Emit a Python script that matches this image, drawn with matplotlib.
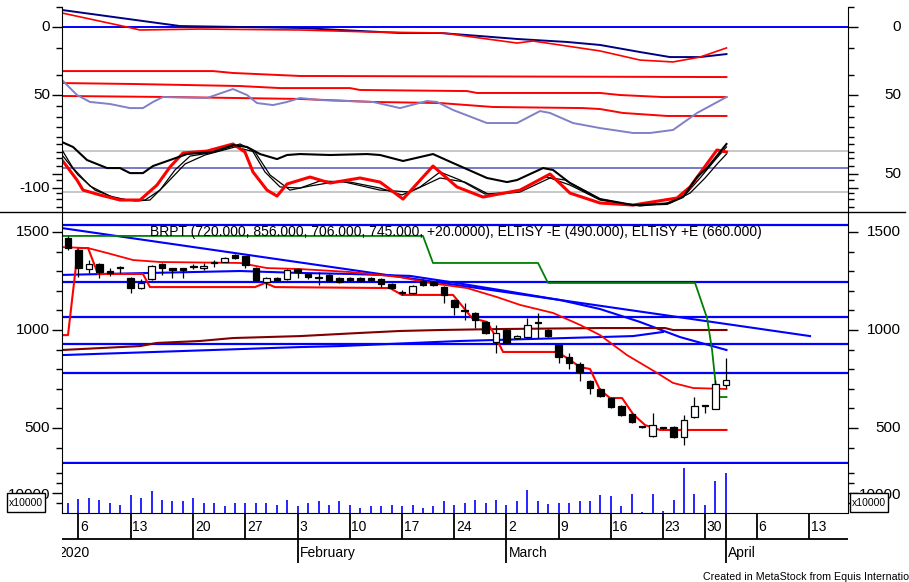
import numpy as np
import matplotlib
matplotlib.use("Agg")
import matplotlib.pyplot as plt
from matplotlib.lines import Line2D
from matplotlib.patches import Rectangle

W, H = 909, 582
FONT = ["Liberation Sans", "DejaVu Sans"]

# ---------------------------------------------------------------------------
# Daily bars, BRPT, 3 Jan - 1 Apr 2020 (bar index 0 = first session shown)
# ---------------------------------------------------------------------------
opens = [1469, 1410, 1311, 1337, 1301, 1316, 1265, 1214, 1260, 1337, 1316, 1316,
         1327, 1316, 1342, 1347, 1383, 1378, 1316, 1245, 1265, 1260, 1311, 1286,
         1265, 1281, 1265, 1265, 1265, 1265, 1260, 1235, 1194, 1189, 1250, 1245,
         1219, 1153, 1100, 1087, 1041, 939, 1000, 959, 964, 1041, 1000, 923,
         862, 827, 740, 699, 653, 612, 571, 505, 459, 500, 505, 454,
         556, 612, 597, 720]
highs = [1480, 1413, 1357, 1340, 1316, 1327, 1270, 1260, 1330, 1340, 1318, 1318,
         1337, 1342, 1357, 1370, 1388, 1380, 1320, 1268, 1268, 1310, 1315, 1290,
         1296, 1285, 1268, 1270, 1268, 1270, 1265, 1240, 1204, 1230, 1260, 1250,
         1225, 1158, 1138, 1090, 1045, 1026, 1005, 975, 1061, 1087, 1005, 925,
         883, 837, 745, 705, 655, 615, 575, 510, 577, 503, 508, 566,
         658, 615, 745, 856]
lows = [1410, 1270, 1291, 1265, 1276, 1291, 1189, 1210, 1255, 1281, 1265, 1265,
        1311, 1306, 1321, 1345, 1362, 1316, 1250, 1214, 1250, 1255, 1265, 1260,
        1230, 1245, 1240, 1250, 1245, 1250, 1219, 1210, 1179, 1185, 1225, 1225,
        1138, 1077, 1051, 1010, 980, 883, 930, 955, 960, 959, 965, 832,
        801, 740, 674, 660, 600, 560, 528, 500, 455, 497, 450, 413,
        551, 577, 595, 706]
closes = [1418, 1316, 1337, 1296, 1291, 1316, 1214, 1240, 1327, 1316, 1306, 1306,
          1324, 1327, 1342, 1367, 1367, 1330, 1255, 1265, 1255, 1306, 1296, 1270,
          1265, 1250, 1245, 1255, 1250, 1255, 1235, 1214, 1190, 1224, 1232, 1230,
          1179, 1117, 1095, 1051, 985, 985, 934, 969, 1026, 1036, 969, 862,
          832, 786, 704, 663, 607, 566, 531, 505, 515, 500, 454, 541,
          612, 612, 725, 745]
volume = [5000, 7000, 7500, 6500, 5000, 4000, 9000, 7500, 11000, 6500,
          6000, 6000, 7500, 5000, 5000, 3500, 5000, 5000, 5000, 5000,
          4000, 6500, 3500, 5000, 6000, 4000, 6000, 4000, 2500, 3500,
          3500, 4000, 3500, 4000, 2500, 3500, 6000, 4000, 5000, 6500,
          5000, 6500, 4000, 6000, 11500, 6000, 4500, 5000, 5000, 6000,
          6000, 9000, 8500, 3500, 9500, 500, 9500, 1000, 6500, 22500,
          9500, 4000, 16000, 20000]

# date axis (positions in bar index, future sessions extend past the last bar)
week_idx = [1, 6, 12, 17, 22, 27, 32, 37, 42, 47, 52, 57, 61, 63, 66, 71]
week_lbl = ["6", "13", "20", "27", "3", "10", "17", "24", "2", "9", "16", "23",
            "30", "", "6", "13"]
month_idx = [22, 42, 63]
month_lbl = ["February", "March", "April"]

# ---------------------------------------------------------------------------
# Price-panel overlays (knots: bar index, price)
# ---------------------------------------------------------------------------
hlines_blue = [1536, 1245, 1066, 929, 781]
bottom_line = 321
trend_x = [-0.57, 71.07]
trend_p = [1520, 969]
ma_blue_x = [-0.57, 7.85, 16.48, 22.22, 27.01, 32.76, 36.59, 41.38, 47.13, 50.96,
             54.79, 58.62, 63.07]
ma_blue_p = [1281, 1291, 1301, 1291, 1286, 1276, 1245, 1204, 1153, 1107,
             1041, 964, 898]
rise_x = [-0.57, 22.22, 26.05, 37.55, 50.96, 54.12, 56.99]
rise_p = [872, 913, 918, 944, 964, 969, 990]
band_up_x = [-0.57, 1.92, 3.74, 6.23, 8.81, 16.48, 19.06, 22.22, 27.01, 31.80,
             34.67, 38.22, 41.09, 43.30, 46.46, 49.04, 50.96, 53.54, 56.42, 57.95,
             59.87, 63.07]
band_up_p = [1423, 1418, 1393, 1357, 1347, 1342, 1316, 1311, 1296, 1270,
             1240, 1214, 1168, 1128, 1087, 1026, 974, 872, 781, 730,
             704, 699]
elt_lo_x = [-0.57, 0, 0.96, 1.92, 2.87, 7.18, 7.85, 17.91, 18.87, 19.83, 30.84,
            31.99, 36.88, 37.84, 38.70, 40.13, 40.71, 41.67, 46.84, 47.80, 49.04,
            50.00, 50.96, 51.92, 53.07, 54.12, 55.27, 56.70, 63.07]
elt_lo_p = [974, 974, 1418, 1418, 1286, 1286, 1219, 1219, 1240, 1219, 1214,
            1179, 1179, 1117, 1061, 1041, 990, 888, 888, 857, 811,
            801, 694, 653, 653, 571, 515, 490, 490]
elt_hi_x = [-0.57, 34.00, 34.96, 45.02, 45.98, 60.06, 61.21, 61.69, 62.16, 63.07]
elt_hi_p = [1480, 1480, 1342, 1342, 1240, 1240, 1061, 898, 658, 658]
maroon_x = [-0.57, 6.90, 8.52, 12.64, 15.80, 22.22, 27.97, 31.80, 35.63, 41.38,
            50.96, 57.18, 57.95, 63.07]
maroon_p = [898, 918, 934, 944, 959, 969, 985, 995, 1000, 1005,
            1010, 1010, 1000, 1000]

# ---------------------------------------------------------------------------
# Indicator panel (knots: bar index, panel units)
# ---------------------------------------------------------------------------
navy_x = [-0.57, 10.73, 22.22, 31.80, 35.63, 38.22, 43.01, 47.80, 50.96, 54.79,
          57.66, 60.54, 63.07]
navy_v = [-12.5, -0.7, 0.7, 4.4, 4.4, 5.9, 8.8, 11.0, 13.2, 18.4, 22.1, 22.1, 19.9]
sig_x = [-0.57, 5.65, 6.90, 12.64, 22.22, 29.21, 35.92, 38.79, 43.01, 44.54,
         47.80, 50.96, 54.79, 57.95, 60.54, 63.07]
sig_v = [-10.3, 0, 2.2, 1.5, 2.2, 3.7, 4.4, 7.4, 11.8, 10.3, 14.0, 17.6, 24.3,
         25.7, 22.1, 15.4]
r1_x = [-0.57, 13.89, 15.80, 22.22, 63.07]
r1_v = [32.4, 32.4, 33.8, 36.0, 36.8]
r2_x = [-0.57, 6.23, 16.48, 20.31, 27.01, 27.97, 38.22, 39.18, 50.96, 52.87,
        56.99, 63.07]
r2_v = [41.2, 41.9, 43.4, 44.9, 44.9, 46.3, 47.1, 48.5, 48.5, 50.0, 51.5, 51.5]
r3_x = [-0.57, 10.06, 22.22, 29.21, 35.63, 40.71, 49.33, 50.96, 53.16, 57.38, 63.07]
r3_v = [50.7, 51.5, 52.9, 55.1, 55.9, 58.8, 59.6, 60.3, 63.2, 65.4, 65.4]
lav_x = [-0.57, 0.86, 2.11, 4.02, 5.94, 7.18, 8.14, 9.10, 13.31, 15.80, 17.15,
         18.10, 19.64, 20.98, 22.22, 24.14, 29.21, 31.80, 34.39, 35.34, 36.88,
         40.13, 43.01, 45.21, 46.17, 48.37, 50.96, 54.12, 55.75, 57.95, 60.25, 63.07]
lav_v = [39.0, 50.0, 55.1, 56.6, 59.6, 59.6, 55.1, 51.5, 52.2, 45.6, 50.0,
         55.9, 57.4, 55.1, 52.2, 53.7, 55.1, 59.6, 54.4, 55.1, 61.0,
         70.6, 70.6, 61.8, 63.2, 70.6, 74.3, 77.9, 77.9, 75.7, 63.2, 51.5]
osc_x = [-0.57, 0.86, 1.44, 3.07, 4.98, 6.90, 8.52, 9.77, 11.02, 13.31, 15.80,
         16.95, 17.72, 19.06, 20.02, 20.98, 23.18, 25.10, 27.97, 29.89, 32.09,
         34.96, 37.26, 39.75, 43.30, 46.17, 48.08, 50.96, 54.12, 58.33, 59.58,
         62.16, 63.07]
osc_v = [97.8, 112.5, 119.9, 123.5, 127.2, 127.2, 116.2, 102.9, 92.6, 91.2, 86.0,
         91.9, 106.6, 119.9, 124.3, 115.4, 110.3, 114.7, 111.0, 114.0, 126.5,
         102.2, 117.6, 125.0, 119.9, 108.1, 122.1, 129.4, 130.9, 125.7, 117.6,
         90.4, 91.9]
slow_x = [-0.57, 0.48, 1.82, 3.74, 4.98, 5.94, 7.18, 8.14, 9.77, 11.40, 13.89,
          15.80, 17.15, 18.39, 20.02, 20.98, 22.22, 25.10, 28.64, 29.89, 32.09,
          34.96, 36.88, 40.13, 42.05, 43.01, 45.50, 46.46, 48.08, 50.96, 54.12,
          57.38, 58.91, 60.25, 61.21, 63.07]
slow_v = [84.6, 88.2, 97.8, 103.7, 103.7, 107.4, 107.4, 102.2, 97.8, 93.4, 91.9,
          86.8, 88.2, 93.4, 97.1, 94.1, 93.4, 94.1, 93.4, 94.1, 98.5,
          93.4, 100.0, 111.0, 114.0, 112.5, 103.7, 105.1, 114.7, 126.5, 130.9,
          130.1, 125.0, 110.3, 103.7, 86.0]
k1_x = [-0.57, 0.48, 2.11, 4.02, 5.65, 7.38, 8.81, 10.25, 11.69, 13.60, 16.48,
        17.62, 18.87, 20.31, 22.22, 24.14, 27.01, 29.89, 31.99, 33.72, 35.63,
        37.55, 39.94, 42.82, 45.69, 47.61, 50.96, 54.12, 57.38, 59.10, 60.54,
        61.97, 63.07]
k1_v = [90.4, 103.7, 116.9, 124.3, 127.2, 127.2, 119.9, 105.1, 94.9, 92.6, 86.0,
        90.4, 106.6, 117.6, 118.4, 113.2, 114.0, 118.4, 123.5, 117.6, 106.6,
        112.5, 122.8, 121.3, 110.3, 112.5, 126.5, 130.9, 129.4, 123.5, 111.0,
        97.8, 88.2]
k2_x = [-0.57, 0.96, 2.59, 4.50, 6.42, 7.85, 9.29, 11.21, 13.12, 16.00, 17.91,
        19.35, 21.26, 23.18, 26.05, 29.89, 32.76, 35.63, 38.03, 40.42, 43.30,
        46.17, 48.08, 50.96, 54.79, 57.66, 59.58, 61.02, 62.26, 63.07]
k2_v = [94.1, 108.8, 119.9, 125.7, 127.9, 127.2, 116.2, 100.7, 94.1, 88.2, 91.9,
        108.8, 119.9, 116.9, 113.2, 119.9, 121.3, 111.0, 114.0, 123.5, 121.3,
        111.0, 116.2, 127.2, 131.6, 129.4, 122.1, 111.0, 100.0, 93.4]
grey_levels = [91.2, 121.3]
lav_level = 103.7

XL = (-0.575, 74.71)
TICK_FS = 11
DATE_FS = 10


def px_axes(x0, y0, x1, y1):
    return fig.add_axes([x0 / W, 1 - y1 / H, (x1 - x0) / W, (y1 - y0) / H])


def side_labels(ax, ys, left, right, size=TICK_FS):
    tr = ax.get_yaxis_transform()
    xl = (50 - 62) / 786
    xr = (901 - 62) / 786
    for y, t in zip(ys, left):
        ax.text(xl, y, t, transform=tr, ha="right", va="center", fontsize=size,
                family=FONT, clip_on=False)
    for y, t in zip(ys, right):
        ax.text(xr, y, t, transform=tr, ha="right", va="center", fontsize=size,
                family=FONT, clip_on=False)


def style(ax, major, minor):
    ax.set_xlim(*XL)
    ax.set_xticks([])
    ax.set_yticks(major)
    ax.set_yticks(minor, minor=True)
    ax.tick_params(axis="y", which="major", direction="out", length=7, width=1,
                   left=True, right=True, labelleft=False, labelright=False)
    ax.tick_params(axis="y", which="minor", direction="out", length=4, width=1,
                   left=True, right=True)
    ax.spines["top"].set_visible(False)
    ax.patch.set_alpha(0)


fig = plt.figure(figsize=(W / 100, H / 100), dpi=100)
fig.patch.set_facecolor("white")

# --- indicator panel -------------------------------------------------------
ax_top = px_axes(62, 0, 848, 212)
style(ax_top, [0, 50, 108.1, 118.4],
      [-14.7, 15.4, 35.3, 58.1, 66.0, 73.5, 80.9, 86.0, 91.9, 96.3, 102.2,
       112.5, 122.1, 126.5, 132.4])
ax_top.set_ylim(136.0, -19.85)
ax_top.spines["bottom"].set_visible(False)
for s in ("left", "right"):
    ax_top.spines[s].set_bounds(-14.7, 136.0)
ax_top.axhline(0, color="#0000ff", lw=1.4)
for g in grey_levels:
    ax_top.axhline(g, color="#c8c8c8", lw=1.4)
ax_top.axhline(lav_level, color="#7878c8", lw=1.4)
for xs, vs in ((r1_x, r1_v), (r2_x, r2_v), (r3_x, r3_v)):
    ax_top.plot(xs, vs, color="#ff0000", lw=1.4)
ax_top.plot(navy_x, navy_v, color="#000080", lw=1.4)
ax_top.plot(sig_x, sig_v, color="#ff0000", lw=1.2)
ax_top.plot(lav_x, lav_v, color="#8080c8", lw=1.4)
ax_top.plot(k2_x, k2_v, color="black", lw=0.9)
ax_top.plot(k1_x, k1_v, color="black", lw=0.9)
ax_top.plot(osc_x, osc_v, color="#ff0000", lw=2.2)
ax_top.plot(slow_x, slow_v, color="black", lw=1.5)
side_labels(ax_top, [0, 50], ["0", "50"], ["0", "50"])
side_labels(ax_top, [118.4], ["-100"], [])
side_labels(ax_top, [108.1], [], ["50"])

fig.add_artist(Line2D([0, 905 / W], [1 - 212 / H] * 2, color="black", lw=1))

# --- price panel -----------------------------------------------------------
ax_px = px_axes(62, 213, 848, 464)
style(ax_px, [500, 1000, 1500], [400, 600, 700, 800, 900, 1100, 1200, 1300, 1400])
ax_px.set_ylim(316.3, 1597)
ax_px.spines["bottom"].set_visible(False)
for y in hlines_blue:
    ax_px.axhline(y, color="#0000ff", lw=1.6, zorder=2)
ax_px.axhline(bottom_line, color="#0000ff", lw=2.4, zorder=2)
ax_px.plot(trend_x, trend_p, color="#0000ff", lw=1.5, zorder=2)
ax_px.plot(ma_blue_x, ma_blue_p, color="#0000ff", lw=1.5, zorder=2)
ax_px.plot(rise_x, rise_p, color="#0000ff", lw=1.5, zorder=2)
ax_px.plot(maroon_x, maroon_p, color="#800000", lw=1.5, zorder=2)
ax_px.plot(band_up_x, band_up_p, color="#ff0000", lw=1.3, zorder=2)
ax_px.plot(elt_lo_x, elt_lo_p, color="#ff0000", lw=1.5, zorder=2)
ax_px.plot(elt_hi_x, elt_hi_p, color="#008000", lw=1.3, zorder=2)

idx = np.arange(len(opens))
o = np.array(opens, float)
c = np.array(closes, float)
ax_px.vlines(idx, lows, highs, color="black", lw=0.9, zorder=3)
body_lo = np.minimum(o, c)
body_h = np.maximum(np.abs(c - o), 4.0)
up = c > o
fc = np.where(up, "white", "black")
ax_px.bar(idx, body_h, bottom=body_lo, width=0.62, color=fc, edgecolor="black",
          linewidth=0.9, zorder=4)
side_labels(ax_px, [500, 1000, 1500], ["500", "1000", "1500"],
            ["500", "1000", "1500"])

fig.text(150 / W, 1 - 232 / H,
         "BRPT (720.000, 856.000, 706.000, 745.000, +20.0000), "
         "ELTiSY -E (490.000), ELTiSY +E (660.000)",
         fontsize=10, family=FONT, va="center", ha="left")

# --- volume panel ----------------------------------------------------------
ax_vol = px_axes(62, 464, 848, 513)
style(ax_vol, [10000], [5000, 15000, 20000])
ax_vol.set_ylim(0, 24500)
ax_vol.vlines(idx, 0, volume, color="#0000ff", lw=1.2)
side_labels(ax_vol, [8800], ["10000"], [])
ax_vol.text((901 - 62) / 786, 8800, "10000", transform=ax_vol.get_yaxis_transform(),
            ha="right", va="center", fontsize=TICK_FS, family=FONT, clip_on=False)
for bx in (7, 850):
    fig.add_artist(Rectangle((bx / W, 1 - 512 / H), 38 / W, 19 / H,
                             transform=fig.transFigure, facecolor="white",
                             edgecolor="black", lw=1, zorder=5))
    fig.text((bx + 19) / W, 1 - 502.5 / H, "x10000", fontsize=7.5, family=FONT,
             ha="center", va="center", zorder=6)

# --- date axis -------------------------------------------------------------
ax_dt = px_axes(62, 513, 848, 566)
ax_dt.set_xlim(*XL)
ax_dt.set_ylim(53, 0)
ax_dt.axis("off")
ax_dt.axhline(26, color="black", lw=1.3)
ax_dt.vlines(week_idx, 0, 26, color="black", lw=1.3)
ax_dt.vlines(month_idx, 26, 50, color="black", lw=1.3)
for x, t in zip(week_idx, week_lbl):
    ax_dt.text(x + 0.15, 14, t, fontsize=DATE_FS, family=FONT, ha="left",
               va="center")
for x, t in zip(month_idx, month_lbl):
    ax_dt.text(x + 0.2, 40, t, fontsize=DATE_FS, family=FONT, ha="left",
               va="center")
ax_dt.text(-0.95, 40, "2020", fontsize=DATE_FS, family=FONT, ha="left",
           va="center", clip_on=True)

fig.text(703 / W, 1 - 577 / H, "Created in MetaStock from Equis International",
         fontsize=7.7, family=FONT, va="center", ha="left")

fig.savefig("out.png", dpi=100)
